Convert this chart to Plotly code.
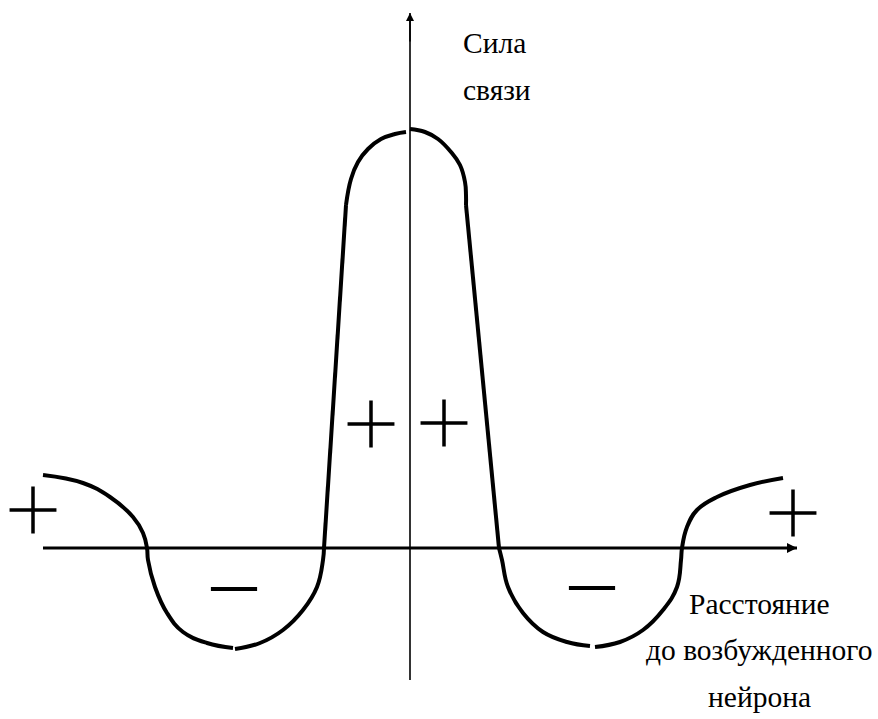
import plotly.graph_objects as go

# ---- data (units: distance from excited neuron / connection strength) ----
# curved strokes of the hand-drawn profile, separated by None
curve_x = [-367, -327, -300, -277, -267, -263, -262, -255, -243, -227, -203, -177, None,
           -175, -150, -127, -107, -93, -87, -86, None,
           -64, -59, -52, -42, -29, -15, -4, None,
           0, 15, 28, 41, 50, 55, 56, 56, None,
           89, 92, 98, 113, 133, 157, 180, None,
           185, 210, 233, 253, 267, 271, 272, 277, 287, 307, 340, 373]
curve_y = [73, 65, 51, 31, 15, 0, -12, -39, -65, -84, -95, -100, None,
           -101, -95, -82, -62, -39, -12, 0, None,
           343, 369, 386, 399, 409, 414, 416, None,
           419, 416, 409, 396, 383, 366, 353, 343, None,
           0, -12, -39, -65, -84, -94, -98, None,
           -99, -94, -82, -62, -39, -12, 0, 21, 38, 51, 63, 70]

# straight flanks of the central peak
flank_x = [-86, -64, None, 56, 89]
flank_y = [0, 343, None, 343, 0]

plus_x = [-377, -39, 34, 383]
plus_y = [38, 124, 125, 35]
minus_x = [-176, 182]
minus_y = [-41, -40]

x_axis_extent = [-367, 387]
y_axis_extent = [-132, 535]

y_label = ["Сила", "связи"]
x_label = ["Расстояние", "до возбужденного", "нейрона"]

# ---- figure ----
fig = go.Figure()

fig.add_trace(go.Scatter(x=x_axis_extent, y=[0, 0], mode="lines",
                         line=dict(color="black", width=3), hoverinfo="skip"))
fig.add_trace(go.Scatter(x=[0, 0], y=y_axis_extent, mode="lines",
                         line=dict(color="black", width=1.6), hoverinfo="skip"))

fig.add_trace(go.Scatter(x=curve_x, y=curve_y, mode="lines",
                         line=dict(color="black", width=4, shape="spline", smoothing=1.2),
                         connectgaps=False, hoverinfo="skip"))
fig.add_trace(go.Scatter(x=flank_x, y=flank_y, mode="lines",
                         line=dict(color="black", width=4),
                         connectgaps=False, hoverinfo="skip"))

fig.add_trace(go.Scatter(x=plus_x, y=plus_y, mode="markers",
                         marker=dict(symbol="cross-thin", size=33.5,
                                     line=dict(color="black", width=3.5)),
                         hoverinfo="skip"))
fig.add_trace(go.Scatter(x=minus_x, y=minus_y, mode="markers",
                         marker=dict(symbol="line-ew", size=33,
                                     line=dict(color="black", width=4)),
                         hoverinfo="skip"))

fig.add_annotation(x=x_axis_extent[1], y=0, ax=x_axis_extent[1] - 30, ay=0,
                   xref="x", yref="y", axref="x", ayref="y", text="",
                   showarrow=True, arrowhead=2, arrowsize=1, arrowwidth=2,
                   arrowcolor="black")
fig.add_annotation(x=0, y=y_axis_extent[1], ax=0, ay=y_axis_extent[1] - 30,
                   xref="x", yref="y", axref="x", ayref="y", text="",
                   showarrow=True, arrowhead=2, arrowsize=1, arrowwidth=1.6,
                   arrowcolor="black")

font = dict(family="Liberation Serif, 'Times New Roman', 'DejaVu Serif', serif",
            size=29.5, color="black")

ylab_y = [505, 458]
for t, yy in zip(y_label, ylab_y):
    fig.add_annotation(x=51, y=yy, text=t, showarrow=False, xanchor="left",
                       yanchor="middle", font=font)

xlab_y = [-56, -102, -149]
for t, yy in zip(x_label, xlab_y):
    fig.add_annotation(x=349, y=yy, text=t, showarrow=False, xanchor="center",
                       yanchor="middle", font=font)

fig.update_layout(
    width=878, height=719,
    margin=dict(l=0, r=0, t=0, b=0),
    paper_bgcolor="white", plot_bgcolor="white",
    showlegend=False,
    xaxis=dict(range=[-410, 468], visible=False, fixedrange=True),
    yaxis=dict(range=[-171, 548], visible=False, fixedrange=True),
)

fig.write_html("out.html", config={"displayModeBar": False, "staticPlot": True})

# remove the browser's default page margin so the figure sits at the corner
with open("out.html", encoding="utf-8") as f:
    html = f.read()
html = html.replace("<body>", '<body style="margin:0;padding:0;overflow:hidden">', 1)
with open("out.html", "w", encoding="utf-8") as f:
    f.write(html)
